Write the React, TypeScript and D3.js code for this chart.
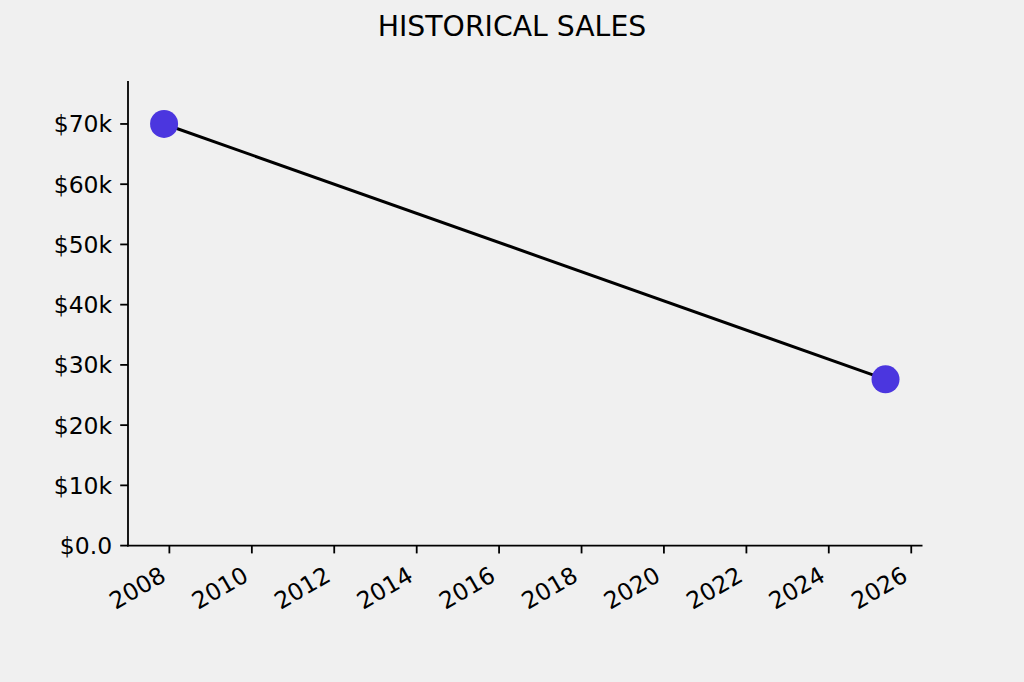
import React from "react";
import * as d3 from "d3";

const dates: string[] = ["2007-11-15", "2025-05-18"];
const sales: number[] = [70000, 27600];
const xTickYears: number[] = [2008, 2010, 2012, 2014, 2016, 2018, 2020, 2022, 2024, 2026];
const yTicks: number[] = [0, 10000, 20000, 30000, 40000, 50000, 60000, 70000];
const yTickLabels: string[] = ["$0.0", "$10k", "$20k", "$30k", "$40k", "$50k", "$60k", "$70k"];
const yMax = 77000;
const title = "HISTORICAL SALES";

const W = 1024;
const H = 682;
const left = 128;
const right = 921.6;
const top = 81.8;
const bottom = 545.6;

export default function App() {
  const parsed = dates.map((d) => new Date(d + "T00:00:00"));
  const t0 = +parsed[0];
  const t1 = +parsed[parsed.length - 1];
  const pad = (t1 - t0) * 0.05;
  const x = d3.scaleTime().domain([new Date(t0 - pad), new Date(t1 + pad)]).range([left, right]);
  const y = d3.scaleLinear().domain([0, yMax]).range([bottom, top]);
  const line = d3
    .line<number>()
    .x((_, i) => x(parsed[i]))
    .y((v) => y(v));
  const font = "'DejaVu Sans', sans-serif";
  const tickLen = 7.8;
  const tickFont = 23.5;
  return (
    <svg
      width={W}
      height={H}
      style={{ position: "absolute", left: 0, top: 0, background: "#f0f0f0" }}
      fontFamily={font}
    >
      <rect x={0} y={0} width={W} height={H} fill="#f0f0f0" />
      <text x={512} y={35.5} textAnchor="middle" fontSize={28.3} fill="#000">
        {title}
      </text>
      {/* spines */}
      <line x1={left} x2={left} y1={top} y2={bottom} stroke="#000" strokeWidth={1.8} strokeLinecap="square" />
      <line x1={left} x2={right} y1={bottom} y2={bottom} stroke="#000" strokeWidth={1.8} strokeLinecap="square" />
      {/* y ticks */}
      {yTicks.map((v, i) => (
        <g key={"y" + i}>
          <line x1={left - tickLen} x2={left} y1={y(v)} y2={y(v)} stroke="#000" strokeWidth={1.8} />
          <text x={left - tickLen - 8} y={y(v)} dy="0.36em" textAnchor="end" fontSize={tickFont} fill="#000">
            {yTickLabels[i]}
          </text>
        </g>
      ))}
      {/* x ticks */}
      {xTickYears.map((yr) => {
        const px = x(new Date(yr, 0, 1));
        return (
          <g key={"x" + yr}>
            <line x1={px} x2={px} y1={bottom} y2={bottom + tickLen} stroke="#000" strokeWidth={1.8} />
            <text
              transform={`translate(${px - 2},${580}) rotate(-30)`}
              textAnchor="end"
              fontSize={tickFont}
              fill="#000"
            >
              {String(yr)}
            </text>
          </g>
        );
      })}
      <path d={line(sales) || ""} fill="none" stroke="#000" strokeWidth={3} />
      {sales.map((v, i) => (
        <circle key={"c" + i} cx={x(parsed[i])} cy={y(v)} r={14} fill="#4b36df" />
      ))}
    </svg>
  );
}
